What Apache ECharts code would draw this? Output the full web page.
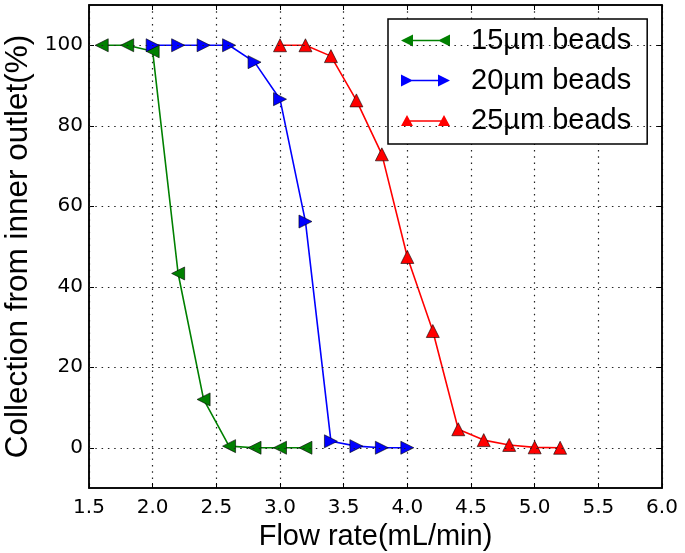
<!DOCTYPE html>
<html><head><meta charset="utf-8">
<script src="https://cdn.jsdelivr.net/npm/echarts@6/dist/echarts.min.js"></script>
<style>html,body{margin:0;padding:0;background:#fff}#c{width:685px;height:553px}</style>
</head><body><div id="c"></div>
<script>
const x15 = [1.6, 1.8, 2.0, 2.2, 2.4, 2.6, 2.8, 3.0, 3.2];
const y15 = [100, 100, 98.5, 43.3, 12, 0.4, 0, 0, 0];
const x20 = [2.0, 2.2, 2.4, 2.6, 2.8, 3.0, 3.2, 3.4, 3.6, 3.8, 4.0];
const y20 = [100, 100, 100, 100, 95.8, 86.6, 56.2, 1.6, 0.4, 0, 0];
const x25 = [3.0, 3.2, 3.4, 3.6, 3.8, 4.0, 4.2, 4.4, 4.6, 4.8, 5.0, 5.2];
const y25 = [100, 100, 97.3, 86.3, 72.9, 47.4, 29, 4.6, 1.9, 0.7, 0.1, 0];
const yTicks = [0, 20, 40, 60, 80, 100];
const names = ['15µm beads', '20µm beads', '25µm beads'];
const colors = ['#008000', '#0000ff', '#ff0000'];

const pair = (xs, ys) => xs.map((v, i) => [v, ys[i]]);
const tickFont = { fontFamily: 'DejaVu Sans', fontSize: 20, color: '#000' };
const dotted = { color: '#222', width: 1.2, type: [1.5, 4.8] };

const icons = [
  'path://M0,6 L12,0 L12,12 Z M37,6 L49,0 L49,12 Z M6,5.2 L43,5.2 L43,6.8 L6,6.8 Z',
  'path://M0,0 L12,6 L0,12 Z M37,0 L49,6 L37,12 Z M6,5.2 L43,5.2 L43,6.8 L6,6.8 Z',
  'path://M6,0 L12,11 L0,11 Z M43,0 L49,11 L37,11 Z M6,5.2 L43,5.2 L43,6.8 L6,6.8 Z'
];

const chart = echarts.init(document.getElementById('c'), null, { renderer: 'canvas' });
const mk = (name, data, color, rot) => ({
  name, type: 'line', data, xAxisIndex: 0, yAxisIndex: 0,
  symbol: 'triangle', symbolSize: 13, symbolRotate: rot,
  lineStyle: { color, width: 1.6 },
  itemStyle: { color, borderColor: '#000', borderWidth: 0.6 },
  emphasis: { disabled: true }, animation: false
});
const axisLine = { onZero: false, lineStyle: { color: '#000', width: 1.5 } };
chart.setOption({
  animation: false,
  grid: { left: 89, right: 23, top: 5, bottom: 65, show: true, borderColor: '#000', borderWidth: 1.5,
          containLabel: false, outerBoundsMode: 'none' },
  legend: {
    orient: 'vertical', left: 388, top: 19, padding: [7, 16, 9, 13], itemGap: 11,
    itemWidth: 49, itemHeight: 12, symbolRotate: 0,
    borderColor: '#000', borderWidth: 1.5, backgroundColor: '#fff',
    textStyle: { fontFamily: 'Liberation Sans', fontSize: 29, lineHeight: 29, color: '#000', padding: [0, 0, 0, 16] },
    data: names.map((n, i) => ({
      name: n, icon: icons[i], symbolRotate: 0,
      itemStyle: { color: colors[i], borderColor: colors[i], borderWidth: 0, opacity: 1 },
      lineStyle: { width: 0, opacity: 0 }
    }))
  },
  xAxis: [{
    type: 'value', min: 1.5, max: 6.0, interval: 0.5, position: 'bottom',
    name: 'Flow rate(mL/min)', nameLocation: 'middle', nameGap: 27,
    nameTextStyle: { fontFamily: 'Liberation Sans', fontSize: 29, color: '#000' },
    axisLine,
    axisTick: { inside: true, length: 5, lineStyle: { color: '#000' } },
    axisLabel: Object.assign({ margin: 10, formatter: v => v.toFixed(1) }, tickFont),
    splitLine: { show: true, lineStyle: dotted }
  }, {
    type: 'value', min: 1.5, max: 6.0, interval: 0.5, position: 'top',
    axisLine,
    axisTick: { inside: true, length: 5, lineStyle: { color: '#000' } },
    axisLabel: { show: false }, splitLine: { show: false }
  }],
  yAxis: [{
    type: 'value', min: -10, max: 110, position: 'left',
    name: 'Collection from inner outlet(%)', nameLocation: 'middle', nameGap: 50,
    nameTextStyle: { fontFamily: 'Liberation Sans', fontSize: 31.5, color: '#000' },
    axisLine,
    axisTick: { inside: true, length: 5, customValues: yTicks, lineStyle: { color: '#000' } },
    axisLabel: Object.assign({ margin: 6, customValues: yTicks }, tickFont),
    splitLine: { show: false }
  }, {
    type: 'value', min: -10, max: 110, position: 'right',
    axisLine,
    axisTick: { inside: true, length: 5, customValues: yTicks, lineStyle: { color: '#000' } },
    axisLabel: { show: false }, splitLine: { show: false }
  }],
  series: [
    Object.assign(mk(names[0], pair(x15, y15), colors[0], 90), {
      markLine: {
        silent: true, symbol: 'none', label: { show: false }, animation: false,
        lineStyle: dotted, emphasis: { disabled: true },
        data: yTicks.map(v => ({ yAxis: v }))
      }
    }),
    mk(names[1], pair(x20, y20), colors[1], -90),
    mk(names[2], pair(x25, y25), colors[2], 0)
  ]
});
</script></body></html>
